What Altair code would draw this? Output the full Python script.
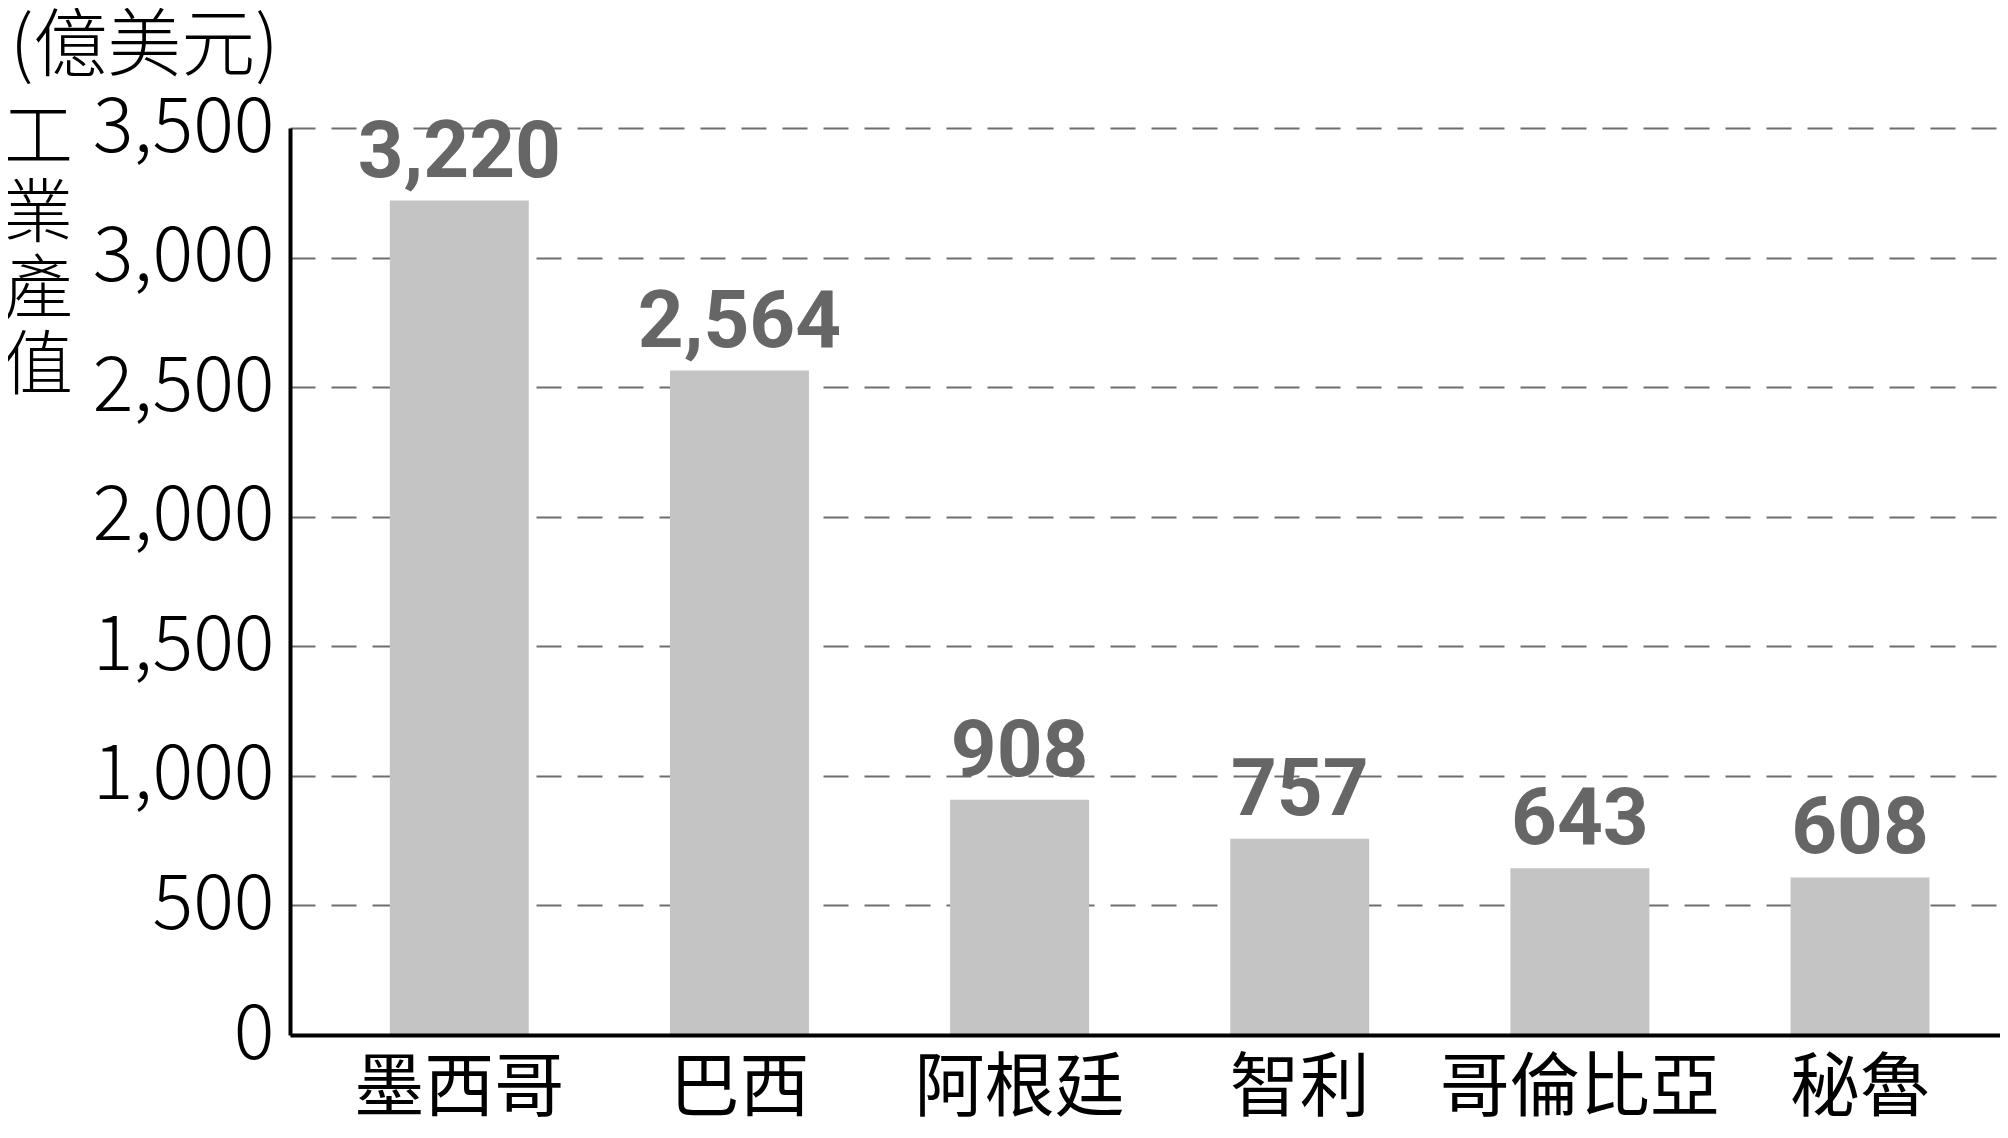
import altair as alt
import pandas as pd

countries = ["墨西哥", "巴西", "阿根廷", "智利", "哥倫比亞", "秘魯"]
values = [3220, 2564, 908, 757, 643, 608]
y_ticks = [0, 500, 1000, 1500, 2000, 2500, 3000, 3500]
unit_label = ["(億美元)"]
y_title = ["工\n業\n產\n值"]

CJK = "Noto Sans CJK TC"
NUM = "Roboto, Liberation Sans, sans-serif"

df = pd.DataFrame({"country": countries, "value": values})

x_enc = alt.X(
    "country:N",
    sort=countries,
    title=None,
    scale=alt.Scale(paddingInner=0.504, paddingOuter=0.304, align=0.586),
    axis=alt.Axis(
        labelAngle=0,
        labelFont=CJK,
        labelFontSize=70,
        labelColor="#000000",
        labelPadding=20,
        labelBaseline="top",
        labelLimit=1000,
        ticks=False,
        domainColor="#000000",
        domainWidth=4,
        grid=False,
        zindex=1,
    ),
)

y_enc = alt.Y(
    "value:Q",
    title=None,
    scale=alt.Scale(domain=[0, 3500], nice=False, zero=True),
    axis=alt.Axis(
        values=y_ticks,
        format=",d",
        labelFont=CJK,
        labelFontSize=76,
        labelFontWeight=300,
        labelColor="#000000",
        labelPadding=16,
        labelLimit=1000,
        ticks=False,
        domainColor="#000000",
        domainWidth=4,
        grid=True,
        gridColor="#6e6e6e",
        gridWidth=2,
        gridDash=[25, 16],
        zindex=0,
    ),
)

bars = alt.Chart(df).mark_bar(color="#c4c4c4").encode(x=x_enc, y=y_enc)

labels = alt.Chart(df).mark_text(
    font=NUM,
    fontSize=80,
    fontWeight="bold",
    color="#666666",
    baseline="alphabetic",
    align="center",
    dy=-24,
).encode(
    x=alt.X("country:N", sort=countries),
    y=alt.Y("value:Q"),
    text=alt.Text("value:Q", format=",d"),
)

unit = alt.Chart(pd.DataFrame({"t": unit_label})).mark_text(
    font=CJK,
    fontSize=74,
    fontWeight=300,
    color="#000000",
    align="left",
    baseline="middle",
).encode(x=alt.value(-280), y=alt.value(-80), text="t:N")

ytitle = alt.Chart(pd.DataFrame({"t": y_title})).mark_text(
    font=CJK,
    fontSize=70,
    fontWeight=300,
    color="#000000",
    align="center",
    baseline="top",
    lineBreak="\n",
    lineHeight=76,
).encode(x=alt.value(-252), y=alt.value(-22), text="t:N")

chart = (
    alt.layer(bars, labels, unit, ytitle)
    .properties(
        width=1710,
        height=907,
        autosize=alt.AutoSizeParams(type="none"),
        padding={"left": 282, "top": 120, "right": 0, "bottom": 100},
        background="#ffffff",
    )
    .configure_view(stroke=None)
)

chart.save("out.html", embed_options={"renderer": "svg", "actions": False})
